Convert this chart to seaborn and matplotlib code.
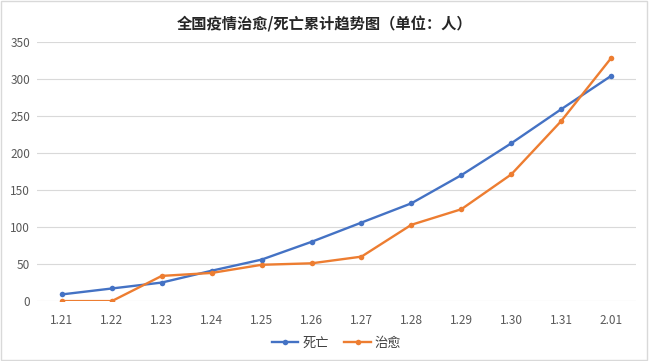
import pandas as pd
import matplotlib.pyplot as plt
import seaborn as sns

dates = ['1.21', '1.22', '1.23', '1.24', '1.25', '1.26', '1.27', '1.28', '1.29', '1.30', '1.31', '2.01']
deaths = [9, 17, 25, 41, 56, 80, 106, 132, 170, 213, 259, 304]
cured = [0, 0, 34, 38, 49, 51, 60, 103, 124, 171, 243, 328]
series_names = ['死亡', '治愈']
colors = ['#4472C4', '#ED7D31']

plt.rcParams['font.family'] = ['Noto Sans CJK SC', 'DejaVu Sans']

df = pd.DataFrame({
    'date': dates * 2,
    'value': deaths + cured,
    'series': [series_names[0]] * len(dates) + [series_names[1]] * len(dates),
})

fig = plt.figure(figsize=(6.49, 3.61), dpi=100)
ax = fig.add_axes([0.057, 0.166, 0.923, 0.718])

sns.lineplot(data=df, x='date', y='value', hue='series', palette=colors,
             marker='o', markersize=4, markeredgewidth=0, linewidth=1.7,
             sort=False, ax=ax)

ax.set_xlim(-0.5, len(dates) - 0.5)
ax.set_ylim(0, 350)
ax.set_yticks(range(0, 351, 50))
ax.grid(axis='y', color='#D9D9D9', linewidth=0.8)
ax.set_axisbelow(True)
for s in ax.spines.values():
    s.set_visible(False)
ax.tick_params(length=0, colors='#595959', labelsize=8.5, pad=9)
ax.tick_params(axis='y', pad=5)
ax.set_xlabel('')
ax.set_ylabel('')

handles, labels = ax.get_legend_handles_labels()
ax.legend(handles, labels, loc='center', bbox_to_anchor=(0.5, -0.163), ncol=2,
          frameon=False, fontsize=9.5, handlelength=2, columnspacing=1.2,
          handletextpad=0.3, labelcolor='#404040')

fig.suptitle('全国疫情治愈/死亡累计趋势图（单位：人）', y=0.955, fontsize=11,
             fontweight='bold', color='#262626')

border = plt.Rectangle((0.002, 0.003), 0.995, 0.993, transform=fig.transFigure,
                       fill=False, edgecolor='#D9D9D9', linewidth=1)
fig.add_artist(border)

fig.savefig('out.png', dpi=100)
